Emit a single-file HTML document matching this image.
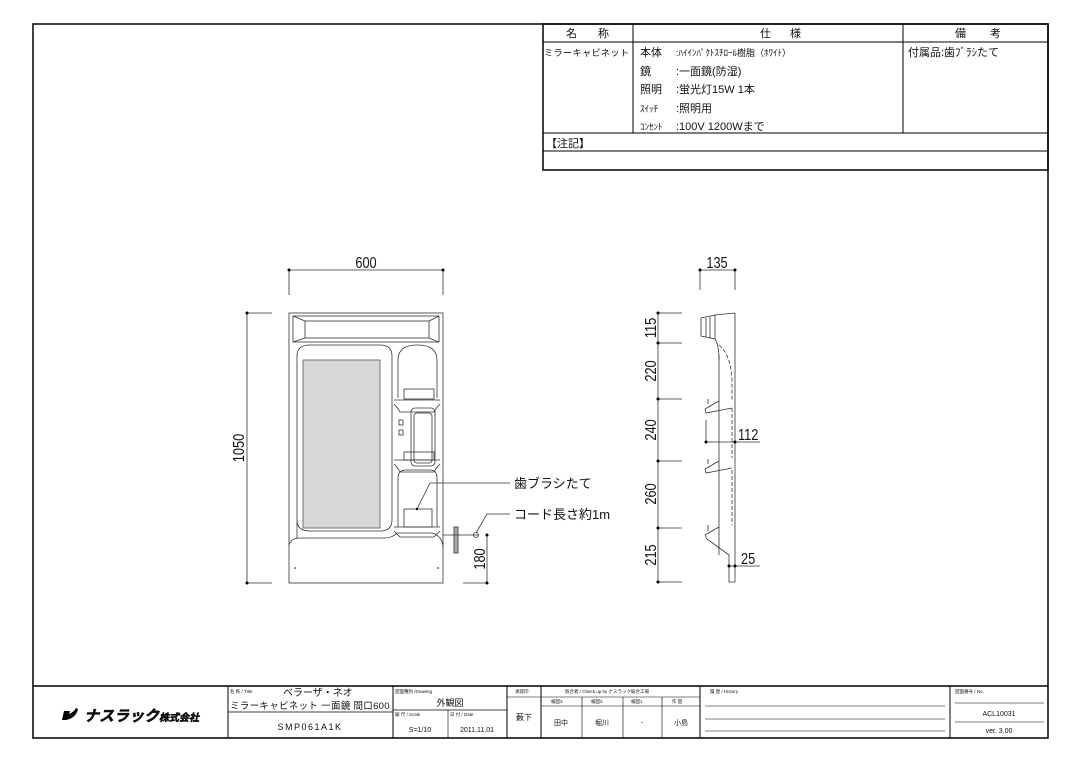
<!DOCTYPE html>
<html><head><meta charset="utf-8">
<style>
html,body{margin:0;padding:0;background:#fff;}
svg{display:block;}
text{font-family:"Liberation Sans","Noto Sans CJK JP",sans-serif;fill:#111;}
</style></head>
<body>
<svg width="1080" height="764" viewBox="0 0 1080 764" xmlns="http://www.w3.org/2000/svg">
<rect x="0" y="0" width="1080" height="764" fill="#fff"/>
<rect x="33" y="24" width="1015" height="714" fill="none" stroke="#000" stroke-width="1.5"/>

<g stroke="#000" fill="none">
<rect x="543" y="24" width="505" height="146" stroke-width="1.5"/>
<line x1="543" y1="42" x2="1048" y2="42" stroke-width="1"/>
<line x1="633" y1="24" x2="633" y2="133" stroke-width="1"/>
<line x1="903" y1="24" x2="903" y2="133" stroke-width="1"/>
<line x1="543" y1="133" x2="1048" y2="133" stroke-width="1"/>
<line x1="543" y1="151" x2="1048" y2="151" stroke-width="1"/>
</g>
<g font-size="11">
<text x="566" y="37">名</text><text x="598" y="37">称</text>
<text x="760" y="37">仕</text><text x="790" y="37">様</text>
<text x="955" y="37">備</text><text x="990" y="37">考</text>
<text x="544" y="56" font-size="9.2" letter-spacing="0.3">ミラーキャビネット</text>
<text x="640" y="56">本体</text><text x="676" y="56" font-size="9">:ﾊｲｲﾝﾊﾟｸﾄｽﾁﾛｰﾙ樹脂（ﾎﾜｲﾄ）</text>
<text x="640" y="75">鏡</text><text x="676" y="75">:一面鏡(防湿)</text>
<text x="640" y="93">照明</text><text x="676" y="93">:蛍光灯15W 1本</text>
<text x="640" y="112" font-size="9">ｽｲｯﾁ</text><text x="676" y="112">:照明用</text>
<text x="640" y="130" font-size="9">ｺﾝｾﾝﾄ</text><text x="676" y="130">:100V 1200Wまで</text>
<text x="908" y="56">付属品:歯ﾌﾞﾗｼたて</text>
<text x="546" y="147">【注記】</text>
</g>

<!-- FRONT VIEW -->
<g stroke="#333" fill="none" stroke-width="0.8">
<rect x="289" y="313" width="154" height="270"/>
<rect x="293" y="316" width="146" height="26"/>
<rect x="305" y="321" width="124" height="17"/>
<line x1="293" y1="316" x2="305" y2="321"/><line x1="439" y1="316" x2="429" y2="321"/>
<line x1="293" y1="342" x2="305" y2="338"/><line x1="439" y1="342" x2="429" y2="338"/>
<path d="M297 538 L297 356 Q297 345 310 345 L380 345 Q392 345 392 356 L392 520 Q392 531 380 531 L310 531 Q297 531 297 520"/>
<rect x="303" y="360" width="77" height="168" fill="#d8d8d8" stroke="#555"/>
<path d="M398 398 L398 360 Q398 345 417 345 Q437 345 437 360 L437 398"/>
<path d="M394 400 L440 400 M394 404 Q398 408 400 412 L434 412 Q436 408 440 404"/>
<rect x="404" y="389" width="30" height="10"/>
<rect x="411" y="408" width="24" height="58" rx="4"/>
<rect x="414" y="413" width="18" height="50" rx="3"/>
<path d="M394 460 L440 460 M394 464 Q398 468 400 472 L434 472 Q436 468 440 464"/>
<rect x="404" y="452" width="30" height="8"/>
<path d="M398 527 L398 478 Q398 470 406 470 L430 470 Q437 470 437 478 L437 527"/>
<rect x="404" y="509" width="28" height="18"/>
<path d="M394 527 L440 527 M394 531 Q398 535 400 537 L434 537 Q436 535 440 531"/>
<path d="M289 545 Q291 538 300 538 L385 538 Q392 538 397 533 L432 533 Q443 536 443 548"/>
<rect x="399" y="420" width="4" height="5"/><rect x="399" y="430" width="4" height="5"/>
<rect x="454" y="527" width="4" height="26" fill="#aaa"/>
<line x1="443" y1="535" x2="478" y2="535"/>
<circle cx="476" cy="535" r="2.5"/>
</g>
<circle cx="295" cy="568" r="0.8" fill="#000"/><circle cx="438" cy="568" r="0.8" fill="#000"/>
<g stroke="#333" fill="none" stroke-width="0.8">
<polyline points="417,509 430,483 510,483"/>
<polyline points="476,533 487,514 510,514"/>
</g>
<circle cx="417" cy="509" r="1.2" fill="#000"/>
<g font-size="13"><text x="514" y="488">歯ブラシたて</text><text x="514" y="519">コード長さ約1m</text></g>
<g stroke="#333" stroke-width="0.8" fill="none">
<line x1="289" y1="270" x2="443" y2="270"/>
<line x1="289" y1="270" x2="289" y2="295"/><line x1="443" y1="270" x2="443" y2="295"/>
<line x1="247" y1="313" x2="247" y2="583"/>
<line x1="247" y1="313" x2="272" y2="313"/><line x1="247" y1="583" x2="272" y2="583"/>
<line x1="487" y1="535" x2="487" y2="583"/><line x1="463" y1="583" x2="487" y2="583"/>
</g>
<g fill="#000"><circle cx="289" cy="270" r="1.5"/><circle cx="443" cy="270" r="1.5"/><circle cx="247" cy="313" r="1.5"/><circle cx="247" cy="583" r="1.5"/><circle cx="487" cy="535" r="1.5"/><circle cx="487" cy="583" r="1.5"/></g>
<text transform="translate(366,268) scale(0.8,1)" font-size="16" text-anchor="middle">600</text>
<text transform="translate(244,448) rotate(-90) scale(0.8,1)" font-size="16" text-anchor="middle">1050</text>
<text transform="translate(485,559) rotate(-90) scale(0.8,1)" font-size="16" text-anchor="middle">180</text>

<!-- SIDE VIEW -->
<g stroke="#333" stroke-width="0.8" fill="none">
<line x1="735" y1="313" x2="735" y2="582"/>
<path d="M735 313 L715 315 L701 318 L701 336 L715 339 Q719 345 719 360"/>
<line x1="715" y1="315" x2="715" y2="339"/>
<line x1="706" y1="318" x2="706" y2="337"/><line x1="710" y1="317" x2="710" y2="338"/>
<line x1="719" y1="355" x2="719" y2="555"/>
<path d="M719 345 Q731 355 732 380 L732 400" stroke-dasharray="4,2"/>
<line x1="732" y1="408" x2="732" y2="458" stroke-dasharray="4,2"/>
<line x1="732" y1="470" x2="732" y2="525" stroke-dasharray="4,2"/>
<path d="M705 409 L719 401 M705 409 L706 413 L732 408 M708 399 L708 404"/>
<path d="M705 469 L719 461 M705 469 L706 473 L732 468 M708 459 L708 464"/>
<path d="M705 535 L719 527 M705 535 L707 539 L729 555 L729 582 L735 582"/>
<line x1="708" y1="525" x2="708" y2="531"/>
<line x1="706" y1="420" x2="706" y2="442"/>
<line x1="658" y1="313" x2="658" y2="582"/>
<line x1="658" y1="313" x2="682" y2="313"/><line x1="658" y1="343" x2="682" y2="343"/>
<line x1="658" y1="399" x2="682" y2="399"/><line x1="658" y1="461" x2="682" y2="461"/>
<line x1="658" y1="528" x2="682" y2="528"/><line x1="658" y1="582" x2="682" y2="582"/>
<line x1="700" y1="270" x2="735" y2="270"/><line x1="700" y1="270" x2="700" y2="290"/><line x1="735" y1="270" x2="735" y2="290"/>
<line x1="706" y1="442" x2="760" y2="442"/>
<line x1="729" y1="566" x2="760" y2="566"/>
</g>
<g fill="#000"><circle cx="658" cy="313" r="1.5"/><circle cx="658" cy="343" r="1.5"/><circle cx="658" cy="399" r="1.5"/><circle cx="658" cy="461" r="1.5"/><circle cx="658" cy="528" r="1.5"/><circle cx="658" cy="582" r="1.5"/><circle cx="700" cy="270" r="1.5"/><circle cx="735" cy="270" r="1.5"/><circle cx="706" cy="442" r="1.5"/><circle cx="735" cy="442" r="1.5"/><circle cx="729" cy="566" r="1.5"/><circle cx="735" cy="566" r="1.5"/></g>
<g font-size="16">
<text transform="translate(717,268) scale(0.8,1)" text-anchor="middle">135</text>
<text transform="translate(738,440) scale(0.8,1)">112</text>
<text transform="translate(741,564) scale(0.8,1)">25</text>
<text transform="translate(656,328) rotate(-90) scale(0.8,1)" text-anchor="middle">115</text>
<text transform="translate(656,371) rotate(-90) scale(0.8,1)" text-anchor="middle">220</text>
<text transform="translate(656,430) rotate(-90) scale(0.8,1)" text-anchor="middle">240</text>
<text transform="translate(656,494) rotate(-90) scale(0.8,1)" text-anchor="middle">260</text>
<text transform="translate(656,555) rotate(-90) scale(0.8,1)" text-anchor="middle">215</text>
</g>

<!-- TITLE BLOCK -->
<g stroke="#000" fill="none">
<line x1="33" y1="686" x2="1048" y2="686" stroke-width="1.5"/>
<line x1="228" y1="686" x2="228" y2="738" stroke-width="1"/>
<line x1="393" y1="686" x2="393" y2="738" stroke-width="1"/>
<line x1="507" y1="686" x2="507" y2="738" stroke-width="1"/>
<line x1="541" y1="686" x2="541" y2="738" stroke-width="1"/>
<line x1="700" y1="686" x2="700" y2="738" stroke-width="1"/>
<line x1="950" y1="686" x2="950" y2="738" stroke-width="1"/>
<line x1="228" y1="712" x2="393" y2="712" stroke-width="0.8"/>
<line x1="393" y1="710" x2="507" y2="710" stroke-width="0.8"/>
<line x1="448" y1="710" x2="448" y2="738" stroke-width="0.6"/>
<line x1="507" y1="697" x2="541" y2="697" stroke-width="0.6"/>
<line x1="541" y1="697" x2="700" y2="697" stroke-width="0.6"/>
<line x1="541" y1="706" x2="700" y2="706" stroke-width="0.6"/>
<line x1="582" y1="697" x2="582" y2="738" stroke-width="0.6"/>
<line x1="623" y1="697" x2="623" y2="738" stroke-width="0.6"/>
<line x1="662" y1="697" x2="662" y2="738" stroke-width="0.6"/>
<line x1="705" y1="706" x2="945" y2="706" stroke-width="0.6"/>
<line x1="705" y1="719" x2="945" y2="719" stroke-width="0.6"/>
<line x1="705" y1="731" x2="945" y2="731" stroke-width="0.6"/>
<line x1="955" y1="703" x2="1044" y2="703" stroke-width="0.6"/>
<line x1="955" y1="722" x2="1044" y2="722" stroke-width="0.6"/>
</g>
<path d="M64 711 L70 711 L69 714 Q74 712 76 708 L78 709 Q76 718 66 720 L62 720 Z" fill="#000"/>
<text x="84" y="721" font-size="15" font-weight="bold" font-style="italic" stroke="#000" stroke-width="0.5">ナスラック<tspan font-size="10">株式会社</tspan></text>
<g font-size="4.5" fill="#555">
<text x="230" y="693">名 称 / Title</text>
<text x="395" y="693">図面種別 /Drawing</text>
<text x="395" y="716">縮 尺 / Scale</text>
<text x="450" y="716">日 付 / Date</text>
<text x="515" y="693">承認印</text>
<text x="565" y="693">照合者 / Check up by ナスラック総合工場</text>
<text x="710" y="693">履 歴 / History</text>
<text x="955" y="693">図面番号 / No.</text>
<text x="551" y="703">検図3</text><text x="591" y="703">検図2</text><text x="631" y="703">検図1</text><text x="672" y="703">作 図</text>
</g>
<g font-size="10">
<text x="283" y="696">ベラーザ・ネオ</text>
<text x="230" y="709" font-size="9.5" letter-spacing="0.3">ミラーキャビネット 一面鏡 間口600</text>
<text x="310" y="730" font-size="9" text-anchor="middle" letter-spacing="1.5">SMP061A1K</text>
<text x="450" y="706" text-anchor="middle" font-size="9">外観図</text>
<text x="420" y="732" text-anchor="middle" font-size="7">S=1/10</text>
<text x="477" y="732" text-anchor="middle" font-size="7">2011.11.01</text>
<text x="524" y="720" text-anchor="middle" font-size="8">薮下</text>
<text x="561" y="725" text-anchor="middle" font-size="7">田中</text>
<text x="602" y="725" text-anchor="middle" font-size="7">堀川</text>
<text x="642" y="725" text-anchor="middle" font-size="7">-</text>
<text x="681" y="725" text-anchor="middle" font-size="7">小島</text>
<text x="999" y="716" text-anchor="middle" font-size="7">ACL10031</text>
<text x="999" y="733" text-anchor="middle" font-size="7">ver. 3.00</text>
</g>
</svg>
</body></html>
